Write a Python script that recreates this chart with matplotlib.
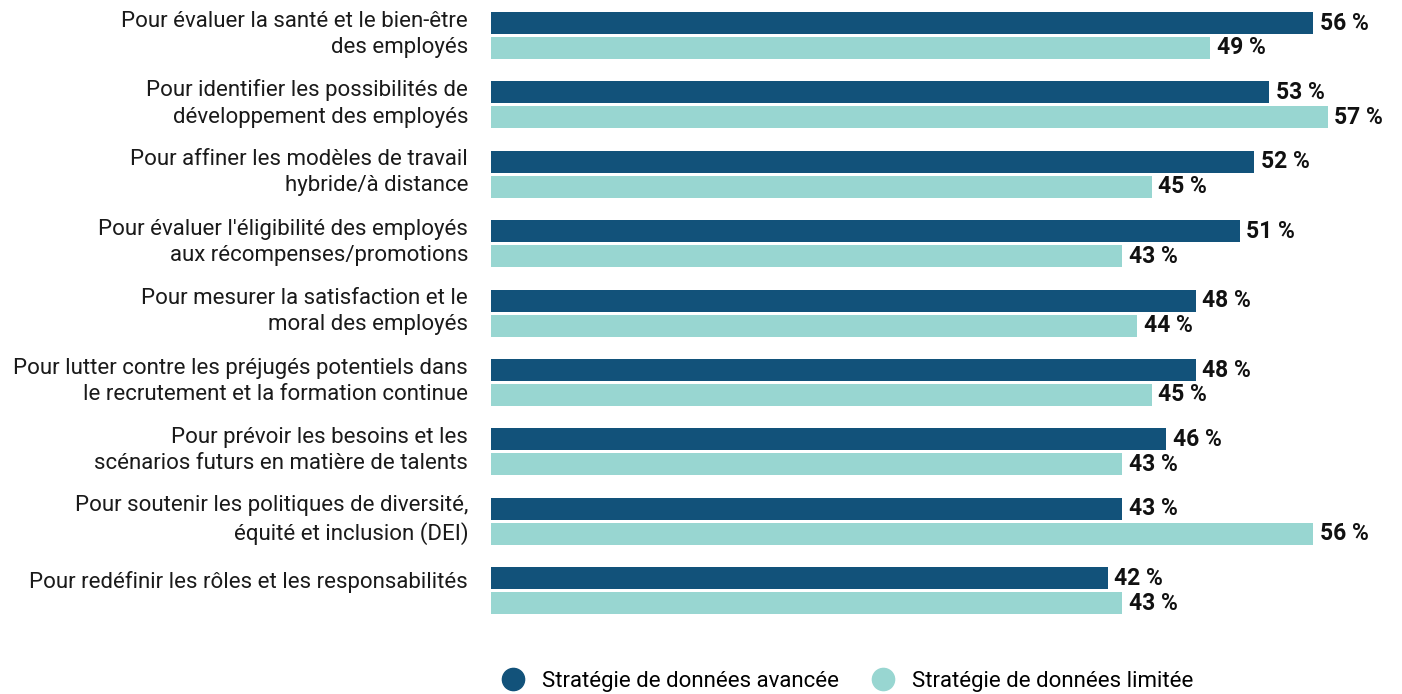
import matplotlib.pyplot as plt
from matplotlib.lines import Line2D

plt.rcParams['font.family'] = ['Roboto', 'DejaVu Sans']

categories = [
    "Pour évaluer la santé et le bien-être\ndes employés",
    "Pour identifier les possibilités de\ndéveloppement des employés",
    "Pour affiner les modèles de travail\nhybride/à distance",
    "Pour évaluer l'éligibilité des employés\naux récompenses/promotions",
    "Pour mesurer la satisfaction et le\nmoral des employés",
    "Pour lutter contre les préjugés potentiels dans\nle recrutement et la formation continue",
    "Pour prévoir les besoins et les\nscénarios futurs en matière de talents",
    "Pour soutenir les politiques de diversité,\néquité et inclusion (DEI)",
    "Pour redéfinir les rôles et les responsabilités",
]
avancee = [56, 53, 52, 51, 48, 48, 46, 43, 42]
limitee = [49, 57, 45, 43, 44, 45, 43, 56, 43]
series_names = ["Stratégie de données avancée", "Stratégie de données limitée"]

dark = '#12527A'
light = '#98D6D1'

fig = plt.figure(figsize=(14.02, 6.94), dpi=100)
ax = fig.add_axes([491 / 1402, 54 / 694, 911 / 1402, 640 / 694])

h = 0.317
off = 0.18
y = list(range(len(categories)))
ax.barh([i - off for i in y], avancee, height=h, color=dark)
ax.barh([i + off for i in y], limitee, height=h, color=light)

for i in y:
    ax.text(avancee[i] + 0.45, i - off, f"{avancee[i]} %", va='center', ha='left',
            fontsize=16.5, fontweight='bold', color='#111111')
    ax.text(limitee[i] + 0.45, i + off, f"{limitee[i]} %", va='center', ha='left',
            fontsize=16.5, fontweight='bold', color='#111111')
    # une seule ligne -> alignée plus haut, comme dans l'original
    ty = i - 0.02 if "\n" in categories[i] else i - 0.13
    ax.text(-1.55, ty, categories[i], va='center', ha='right', fontsize=16,
            color='#1a1a1a', linespacing=1.32)

ax.set_xlim(0, 911 / 14.68)
ax.set_ylim(-0.5115 + 9.222, -0.5115)
ax.axis('off')

handles = [Line2D([], [], marker='o', linestyle='none', markersize=16, color=c)
           for c in (dark, light)]
fig.legend(handles, series_names, loc='center', bbox_to_anchor=(842 / 1402, 13 / 694),
           ncol=2, frameon=False, fontsize=16, handletextpad=0.3, columnspacing=1.0)

fig.savefig('out.png')
